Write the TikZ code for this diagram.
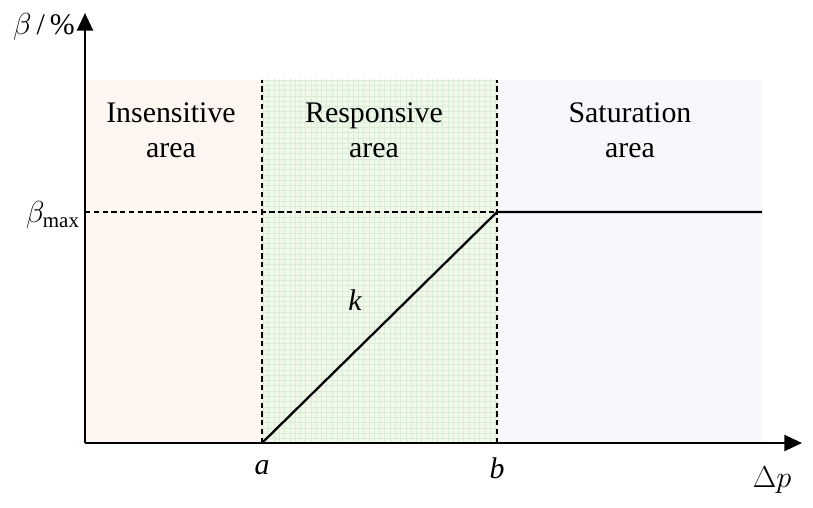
\documentclass[tikz,border=0pt]{standalone}
\usepackage{fontspec}
\setmainfont{Liberation Serif}
\usetikzlibrary{arrows.meta,patterns}
\tikzset{area/.style={font=\fontsize{17}{20}\selectfont, align=center},
         lbl/.style={font=\fontsize{17}{20}\selectfont\itshape},
         sep/.style={dash pattern=on 3pt off 2pt, line width=1.3pt}}
\definecolor{insens}{RGB}{254,246,240}
\definecolor{respon}{RGB}{242,249,232}
\definecolor{satur}{RGB}{248,247,251}
\begin{document}
\begin{tikzpicture}[x=0.02cm,y=0.02cm]
\useasboundingbox (0,0) rectangle (813,507);
% shaded areas
\fill[insens] (85,64) rectangle (262,427);
\fill[respon] (262,64) rectangle (497,427);
\fill[satur] (497,64) rectangle (762,427);
\fill[pattern=grid, pattern color=green!50!black!15] (262,64) rectangle (497,427);
\coordinate (O) at (85,64);
\coordinate (ytop) at (85,494);
\coordinate (xend) at (802,64);
\coordinate (a) at (262,64);
\coordinate (at) at (262,427);
\coordinate (b) at (497,295);
\coordinate (bt) at (497,427);
\coordinate (bb) at (497,64);
\coordinate (ym) at (85,295);
\coordinate (e) at (762,295);
% axes
\draw[line width=1.5pt,-{Triangle[length=10pt,width=9pt]}] (O) -- (ytop);
\draw[line width=1.5pt,-{Triangle[length=10pt,width=9pt]}] (O) -- (xend);
\draw[sep] (a) -- (at);
\draw[sep] (bb) -- (bt);
\draw[sep] (ym) -- (b);
\draw[line width=1.3pt] (a) -- (b) -- (e);
% labels
\node[area] (ins) at (171,377) {Insensitive\\area};
\node[area] (res) at (374,377) {Responsive\\area};
\node[area] (sat) at (630,377) {Saturation\\area};
\node[font=\fontsize{17}{20}\selectfont] (ylab) at (44,480) {$\beta$\,/\,\%};
\node[font=\fontsize{17}{20}\selectfont] (bmax) at (53,292) {$\beta_{\mathrm{max}}$};
\node[lbl] (alab) at (262,39) {a};
\node[lbl] (blab) at (497,39) {b};
\node[lbl] (klab) at (355,207) {k};
\node[font=\fontsize{17}{20}\selectfont] (dp) at (772,27) {$\Delta p$};
\end{tikzpicture}
\end{document}
